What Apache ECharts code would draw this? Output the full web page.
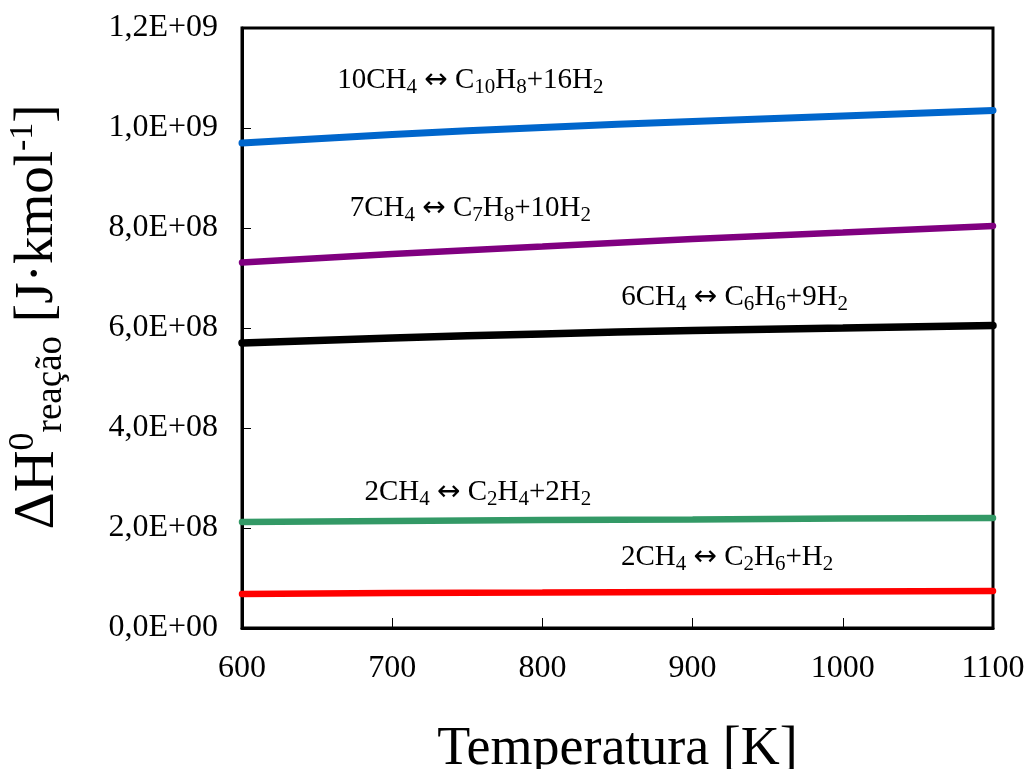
<!DOCTYPE html>
<html>
<head>
<meta charset="utf-8">
<script src="https://cdn.jsdelivr.net/npm/echarts@6/dist/echarts.min.js"></script>
<style>
  html, body { margin: 0; padding: 0; background: #fff; }
  #chart { width: 1031px; height: 769px; }
</style>
</head>
<body>
<div id="chart"></div>
<script>
// Temperature grid [K]
const temperatures = [600, 700, 800, 900, 1000, 1100];

// Standard reaction enthalpy [J/kmol] for each methane conversion route
const naphthalene = [9.70e8, 9.87e8, 10.01e8, 10.13e8, 10.24e8, 10.35e8];
const toluene     = [7.31e8, 7.48e8, 7.63e8, 7.78e8, 7.91e8, 8.04e8];
const benzene     = [5.70e8, 5.80e8, 5.88e8, 5.95e8, 6.00e8, 6.05e8];
const ethylene    = [2.12e8, 2.14e8, 2.16e8, 2.17e8, 2.19e8, 2.20e8];
const ethane      = [0.68e8, 0.70e8, 0.71e8, 0.72e8, 0.73e8, 0.74e8];

// Tick labels
const xTickLabels = ['600', '700', '800', '900', '1000', '1100'];
const yTickLabels = ['0,0E+00', '2,0E+08', '4,0E+08', '6,0E+08', '8,0E+08', '1,0E+09', '1,2E+09'];

// Reaction equations, as rich-text segments: [text, style]
const eqNaphthalene = [['10CH', 'm'], ['4', 's'], [' ', 'm'], ['\u2194', 'a'], [' C', 'm'], ['10', 's'], ['H', 'm'], ['8', 's'], ['+16H', 'm'], ['2', 's']];
const eqToluene     = [['7CH', 'm'], ['4', 's'], [' ', 'm'], ['\u2194', 'a'], [' C', 'm'], ['7', 's'], ['H', 'm'], ['8', 's'], ['+10H', 'm'], ['2', 's']];
const eqBenzene     = [['6CH', 'm'], ['4', 's'], [' ', 'm'], ['\u2194', 'a'], [' C', 'm'], ['6', 's'], ['H', 'm'], ['6', 's'], ['+9H', 'm'], ['2', 's']];
const eqEthylene    = [['2CH', 'm'], ['4', 's'], [' ', 'm'], ['\u2194', 'a'], [' C', 'm'], ['2', 's'], ['H', 'm'], ['4', 's'], ['+2H', 'm'], ['2', 's']];
const eqEthane      = [['2CH', 'm'], ['4', 's'], [' ', 'm'], ['\u2194', 'a'], [' C', 'm'], ['2', 's'], ['H', 'm'], ['6', 's'], ['+H', 'm'], ['2', 's']];

// Anchor of each equation label, in data units [T, ΔH]
const labelAnchors = {
  naphthalene: [752, 10.95e8],
  toluene:     [752, 8.39e8],
  benzene:     [928, 6.61e8],
  ethylene:    [757, 2.71e8],
  ethane:      [923, 1.41e8]
};

const SERIF = '"Liberation Serif", "DejaVu Serif", serif';

function richEq(parts) {
  return parts.map(([t, s]) => '{' + s + '|' + t + '}').join('');
}

const eqRich = {
  m: { fontFamily: SERIF, fontSize: 29, lineHeight: 34, color: '#000', verticalAlign: 'middle' },
  a: { fontFamily: '"DejaVu Sans", sans-serif', fontSize: 28, lineHeight: 34, color: '#000', verticalAlign: 'middle' },
  s: { fontFamily: SERIF, fontSize: 21, lineHeight: 14, color: '#000', verticalAlign: 'bottom' }
};

function buildSeries(name, values, color, width, eq, anchor) {
  return {
    name: name,
    type: 'line',
    data: temperatures.map((t, i) => [t, values[i]]),
    smooth: true,
    showSymbol: false,
    symbol: 'none',
    lineStyle: { color: color, width: width, cap: 'round' },
    z: 3,
    markPoint: {
      symbol: 'circle',
      symbolSize: 0,
      silent: true,
      label: {
        show: true,
        position: 'inside',
        formatter: richEq(eq),
        rich: eqRich
      },
      data: [{ coord: anchor }]
    }
  };
}

const chart = echarts.init(document.getElementById('chart'), null, { renderer: 'canvas' });

chart.setOption({
  animation: false,
  backgroundColor: '#ffffff',
  grid: {
    left: 242, right: 38, top: 28, bottom: 141,
    outerBoundsMode: 'none',
    containLabel: false,
    show: true, borderColor: '#000', borderWidth: 3, backgroundColor: 'transparent'
  },
  xAxis: {
    type: 'value',
    min: 600, max: 1100, interval: 100,
    name: 'Temperatura [K]',
    nameLocation: 'middle',
    nameGap: 95,
    nameTextStyle: { fontFamily: SERIF, fontSize: 54, color: '#000' },
    axisLine: { show: true, lineStyle: { color: '#000', width: 3 } },
    axisTick: { show: true, inside: true, length: 10, lineStyle: { color: '#000', width: 1 } },
    axisLabel: {
      fontFamily: SERIF, fontSize: 32, color: '#000', margin: 25,
      formatter: function (v) {
        const idx = Math.round((v - 600) / 100);
        return xTickLabels[idx] !== undefined ? xTickLabels[idx] : '';
      }
    },
    splitLine: { show: false }
  },
  yAxis: {
    type: 'value',
    min: 0, max: 1.2e9, interval: 2e8,
    name: '{big|\u0394H}{sup|0}{sub|rea\u00e7\u00e3o}{mid| [J\u00b7kmol}{sup2|-1}{mid|]}',
    nameLocation: 'middle',
    nameRotate: 90,
    nameGap: 172,
    nameTextStyle: {
      color: '#000',
      rich: {
        big:  { fontFamily: SERIF, fontSize: 58, lineHeight: 64, color: '#000', verticalAlign: 'middle', padding: [0, 0, 0, 22] },
        sup:  { fontFamily: SERIF, fontSize: 36, lineHeight: 36, color: '#000', verticalAlign: 'top' },
        sub:  { fontFamily: SERIF, fontSize: 37, lineHeight: 26, color: '#000', verticalAlign: 'bottom' },
        mid:  { fontFamily: SERIF, fontSize: 55, lineHeight: 64, color: '#000', verticalAlign: 'middle' },
        sup2: { fontFamily: SERIF, fontSize: 34, lineHeight: 38, color: '#000', verticalAlign: 'top' }
      }
    },
    axisLine: { show: true, lineStyle: { color: '#000', width: 3 } },
    axisTick: { show: true, inside: true, length: 9, lineStyle: { color: '#000', width: 1 } },
    axisLabel: {
      fontFamily: SERIF, fontSize: 32, color: '#000', margin: 24,
      formatter: function (v) {
        const idx = Math.round(v / 2e8);
        return yTickLabels[idx] !== undefined ? yTickLabels[idx] : '';
      }
    },
    splitLine: { show: false }
  },
  series: [
    buildSeries('10CH4', naphthalene, '#0066CC', 7, eqNaphthalene, labelAnchors.naphthalene),
    buildSeries('7CH4', toluene, '#800080', 6.5, eqToluene, labelAnchors.toluene),
    buildSeries('6CH4', benzene, '#000000', 7.5, eqBenzene, labelAnchors.benzene),
    buildSeries('2CH4 eth', ethylene, '#339966', 6.5, eqEthylene, labelAnchors.ethylene),
    buildSeries('2CH4 ethane', ethane, '#FF0000', 6.5, eqEthane, labelAnchors.ethane)
  ]
});
</script>
</body>
</html>
